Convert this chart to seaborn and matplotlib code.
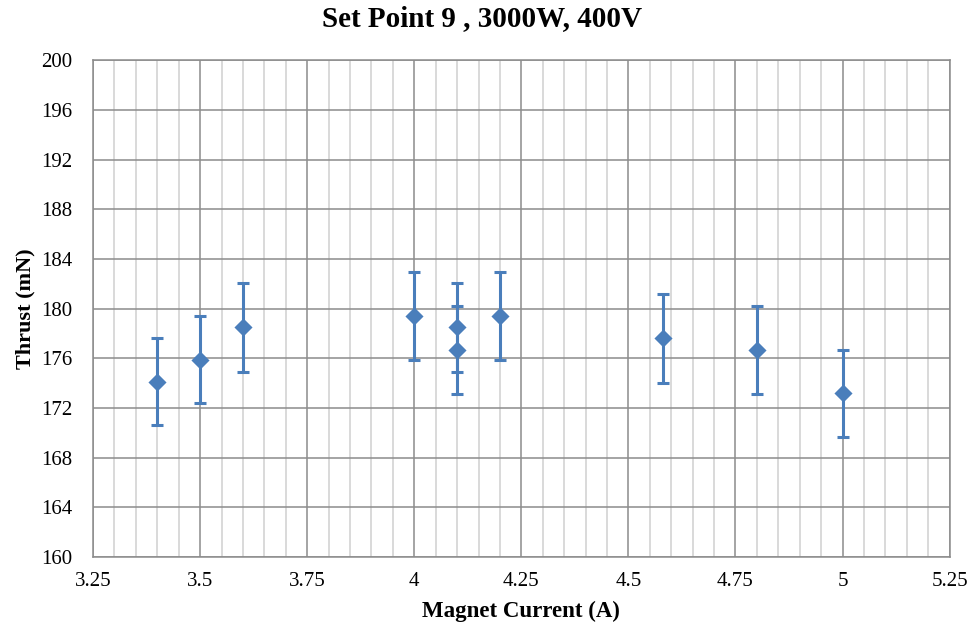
import numpy as np
import pandas as pd
import matplotlib
matplotlib.use("Agg")
import matplotlib.pyplot as plt
from matplotlib.ticker import MultipleLocator, FuncFormatter
import seaborn as sns

# data
current = [3.4, 3.5, 3.6, 4.0, 4.1, 4.1, 4.2, 4.58, 4.8, 5.0]
thrust = [174.1, 175.9, 178.5, 179.4, 178.5, 176.7, 179.4, 177.6, 176.7, 173.2]
err = [3.5, 3.5, 3.6, 3.55, 3.6, 3.55, 3.55, 3.55, 3.55, 3.5]

df = pd.DataFrame({"current": current, "thrust": thrust, "err": err})

sns.set_theme(style="white")
plt.rcParams["font.family"] = ["Liberation Serif", "DejaVu Serif"]
plt.rcParams["text.color"] = "black"
plt.rcParams["xtick.color"] = "black"
plt.rcParams["ytick.color"] = "black"
plt.rcParams["axes.labelcolor"] = "black"

blue = "#4a7ebb"

fig = plt.figure(figsize=(9.72, 6.27), dpi=100)
ax = fig.add_axes([0.0957, 0.1116, 0.8813, 0.7924])

ax.errorbar(df["current"], df["thrust"], yerr=df["err"], fmt="none",
            ecolor=blue, elinewidth=2.2, capsize=4, capthick=2.2, zorder=3)
sns.scatterplot(data=df, x="current", y="thrust", marker="D", s=85,
                color=blue, edgecolor=blue, linewidth=0, ax=ax, zorder=4)

ax.set_xlim(3.25, 5.25)
ax.set_ylim(160, 200)
ax.xaxis.set_major_locator(MultipleLocator(0.25))
ax.xaxis.set_minor_locator(MultipleLocator(0.05))
ax.yaxis.set_major_locator(MultipleLocator(4))
ax.xaxis.set_major_formatter(FuncFormatter(lambda v, p: f"{v:g}"))

ax.grid(which="major", color="#8c8c8c", linewidth=1.1)
ax.grid(which="minor", axis="x", color="#cfcfcf", linewidth=1.1)
ax.set_axisbelow(True)
for s in ax.spines.values():
    s.set_color("#8c8c8c")
    s.set_linewidth(1.1)

ax.tick_params(axis="both", which="both", length=0, labelsize=15)
ax.tick_params(axis="y", pad=15)
ax.tick_params(axis="x", pad=11)

ax.set_xlabel("Magnet Current (A)", fontsize=16.5, fontweight="bold", labelpad=7)
ax.set_ylabel("Thrust (mN)", fontsize=16, fontweight="bold", labelpad=4)
fig.text(0.496, 0.97, "Set Point 9 , 3000W, 400V", fontsize=21, fontweight="bold",
         ha="center", va="center")

fig.savefig("out.png", dpi=100)
